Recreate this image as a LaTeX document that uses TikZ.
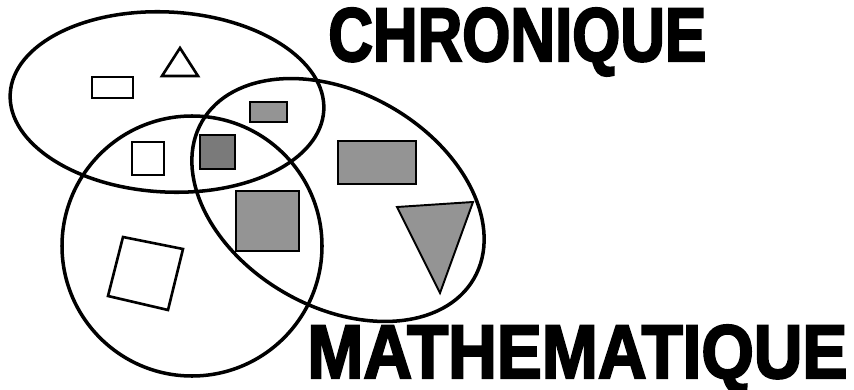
\documentclass[tikz,border=0pt]{standalone}
\usepackage{graphicx}
\usepackage{fontspec}
\newfontfamily\titlefont[FakeBold=3]{Liberation Sans Bold}
\begin{document}
\begin{tikzpicture}[x=0.02cm,y=0.02cm]
  \path[use as bounding box] (0,0) rectangle (854,389);

  \tikzset{set/.style={line width=2pt},
    plain/.style={line width=1.5pt,line join=miter},
    shaded/.style={line width=1.1pt,fill=black!42}}

  % The three sets: flat ellipse, circle, tilted ellipse.
  \draw[set] (167,287) ellipse [x radius=157, y radius=90, rotate=-3];
  \draw[set] (192,143) circle (130);
  \draw[set] (338,189) ellipse [x radius=157, y radius=107, rotate=-30];

  % Open shapes.
  \draw[plain] (92,291) rectangle (133,312);
  \draw[plain] (162,313) -- (198,313) -- (180,341) -- cycle;
  \draw[plain] (132,214) rectangle (164,247);
  \draw[plain] (123,152) -- (183,140) -- (168,79) -- (108,93) -- cycle;

  % Shaded shapes, all inside the tilted ellipse.
  \filldraw[shaded] (250,267) rectangle (287,287);
  \filldraw[shaded,fill=black!52] (200,220) rectangle (235,254);
  \filldraw[shaded] (338,205) rectangle (416,248);
  \filldraw[shaded] (236,138) rectangle (299,198);
  \filldraw[shaded] (397,182) -- (473,187) -- (440,96) -- cycle;

  \node[anchor=base west, inner sep=0] (chron) at (328,328)
    {\resizebox{7.56cm}{1.06cm}{\titlefont CHRONIQUE}};
  \node[anchor=base west, inner sep=0] (math) at (307,11)
    {\resizebox{10.8cm}{1.06cm}{\titlefont MATHEMATIQUE}};
\end{tikzpicture}
\end{document}
